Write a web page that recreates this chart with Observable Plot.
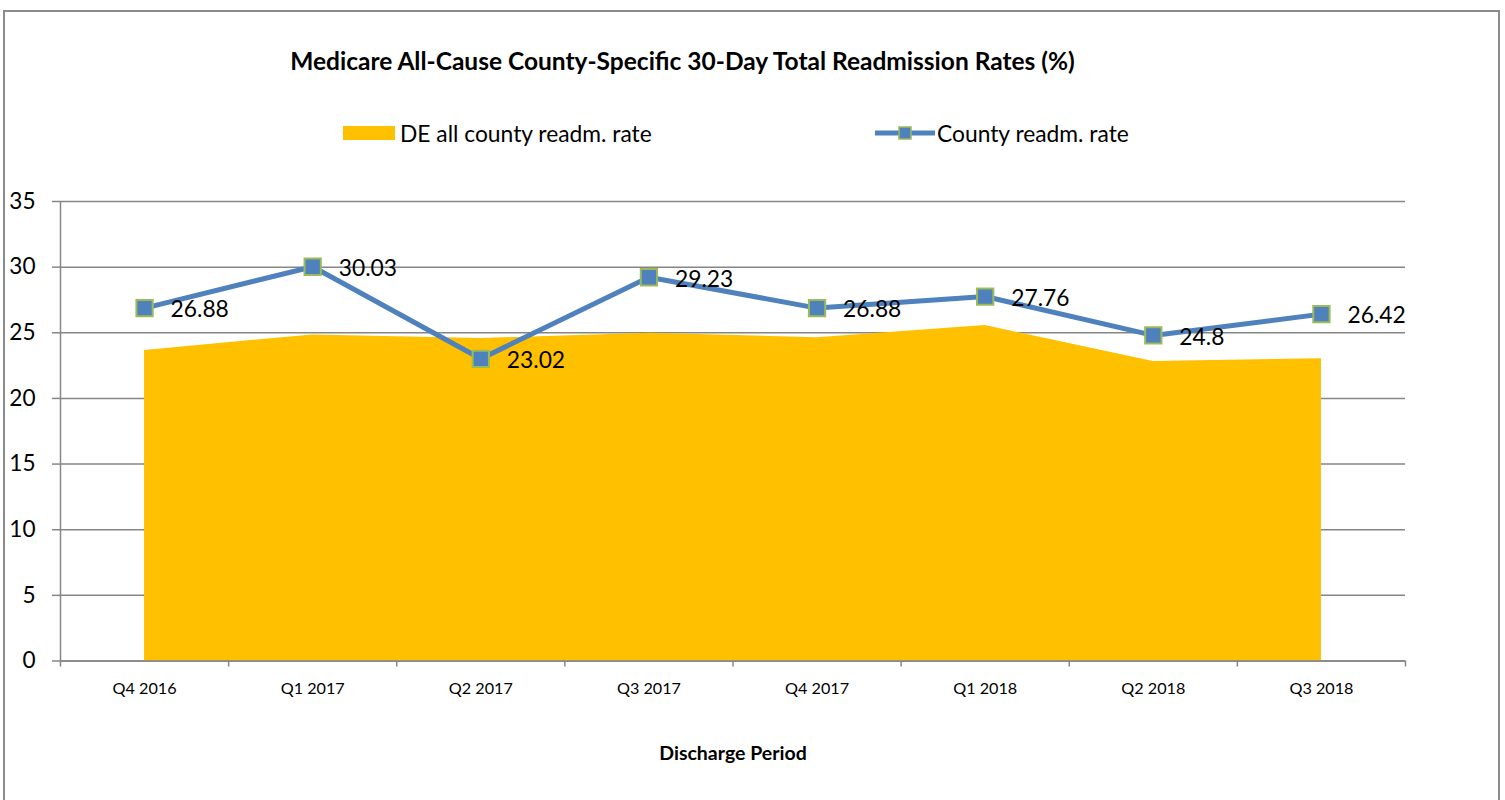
<!DOCTYPE html>
<html>
<head>
<meta charset="utf-8">
<script src="https://cdn.jsdelivr.net/npm/d3@7"></script>
<script src="https://cdn.jsdelivr.net/npm/@observablehq/plot@0.6"></script>
<style>
  html, body { margin: 0; padding: 0; background: #fff; }
  body { width: 1505px; height: 800px; position: relative; overflow: hidden; font-family: Lato, "Open Sans", sans-serif; }
  #frame { position: absolute; left: 3px; top: 10px; width: 1497px; height: 800px; border: 2px solid #8c8c8c; box-sizing: border-box; }
  #title { position: absolute; left: 0; width: 1365px; top: 46px; line-height: 30px; text-align: center; font-weight: bold; font-size: 24.5px; color: #000; }
  .leg { position: absolute; top: 120px; font-size: 22.8px; color: #000; display: flex; align-items: center; height: 26px; white-space: nowrap; }
  #chart { position: absolute; left: 0; top: 190px; }
</style>
</head>
<body>
<div id="frame"></div>
<div id="title">Medicare All-Cause County-Specific 30-Day Total Readmission Rates (%)</div>
<div class="leg" style="left:343px;"><svg width="52" height="14" style="margin-right:5px"><rect x="0" y="0" width="52" height="14" fill="#ffc000"/></svg><span id="leg1"></span></div>
<div class="leg" style="left:875px;"><svg width="60" height="20" style="margin-right:2px"><line x1="0" x2="60" y1="10" y2="10" stroke="#4f81bd" stroke-width="5" stroke-linecap="round"/><rect x="24" y="4" width="12" height="12" fill="#4f81bd" stroke="#9bbb59" stroke-width="1.5"/></svg><span id="leg2"></span></div>
<div id="chart"></div>
<script>
const categories = ["Q4 2016", "Q1 2017", "Q2 2017", "Q3 2017", "Q4 2017", "Q1 2018", "Q2 2018", "Q3 2018"];
const deRate = [23.65, 24.84, 24.56, 24.97, 24.62, 25.55, 22.81, 23.02];
const countyRate = [26.88, 30.03, 23.02, 29.23, 26.88, 27.76, 24.8, 26.42];
const yTicks = [0, 5, 10, 15, 20, 25, 30, 35];
const seriesNames = ["DE all county readm. rate", "County readm. rate"];
const xAxisLabel = "Discharge Period";

document.getElementById("leg1").textContent = seriesNames[0];
document.getElementById("leg2").textContent = seriesNames[1];

const data = categories.map((c, i) => ({cat: c, pos: i + 0.5, de: deRate[i], county: countyRate[i]}));
const boundaries = d3.range(0, categories.length + 1);
const gray = "#868686";

const chart = Plot.plot({
  width: 1505,
  height: 600,
  marginLeft: 60,
  marginRight: 100,
  marginTop: 11,
  marginBottom: 129.5,
  x: {type: "linear", domain: [0, categories.length], axis: null},
  y: {domain: [0, 35], axis: null},
  style: {fontFamily: "Lato, 'Open Sans', sans-serif", color: "#000", background: "transparent", overflow: "visible"},
  marks: [
    Plot.gridY(yTicks, {stroke: gray, strokeOpacity: 1, strokeWidth: 1.5}),
    Plot.areaY(data, {x: "pos", y: "de", fill: "#ffc000"}),
    Plot.axisY(yTicks, {tickSize: 8, tickPadding: 17, fontSize: 22.6, stroke: gray, strokeWidth: 1.5, fill: "#000", label: null}),
    Plot.ruleX([0], {y1: 0, y2: 35, stroke: gray, strokeWidth: 1.5}),
    Plot.ruleY([0], {stroke: gray, strokeWidth: 1.5}),
    Plot.axisX(boundaries, {tickSize: 6, tickFormat: () => "", stroke: gray, strokeWidth: 1.5, label: null}),
    Plot.axisX(data.map(d => d.pos), {tickSize: 0, tickPadding: 21, fontSize: 16.2, fill: "#000", tickFormat: p => categories[Math.floor(p)], label: null}),
    Plot.text([xAxisLabel], {frameAnchor: "bottom", dy: 99, fontSize: 19.5, fontWeight: "bold", fill: "#000"}),
    Plot.lineY(data, {x: "pos", y: "county", stroke: "#4f81bd", strokeWidth: 5}),
    Plot.dot(data, {x: "pos", y: "county", symbol: "square", r: 9.2, fill: "#4f81bd", stroke: "#9bbb59", strokeWidth: 2}),
    Plot.text(data, {x: "pos", y: "county", text: d => String(d.county), dx: 26, dy: 2, textAnchor: "start", fontSize: 22.8, fill: "#000"})
  ]
});
document.getElementById("chart").appendChild(chart);
</script>
</body>
</html>
